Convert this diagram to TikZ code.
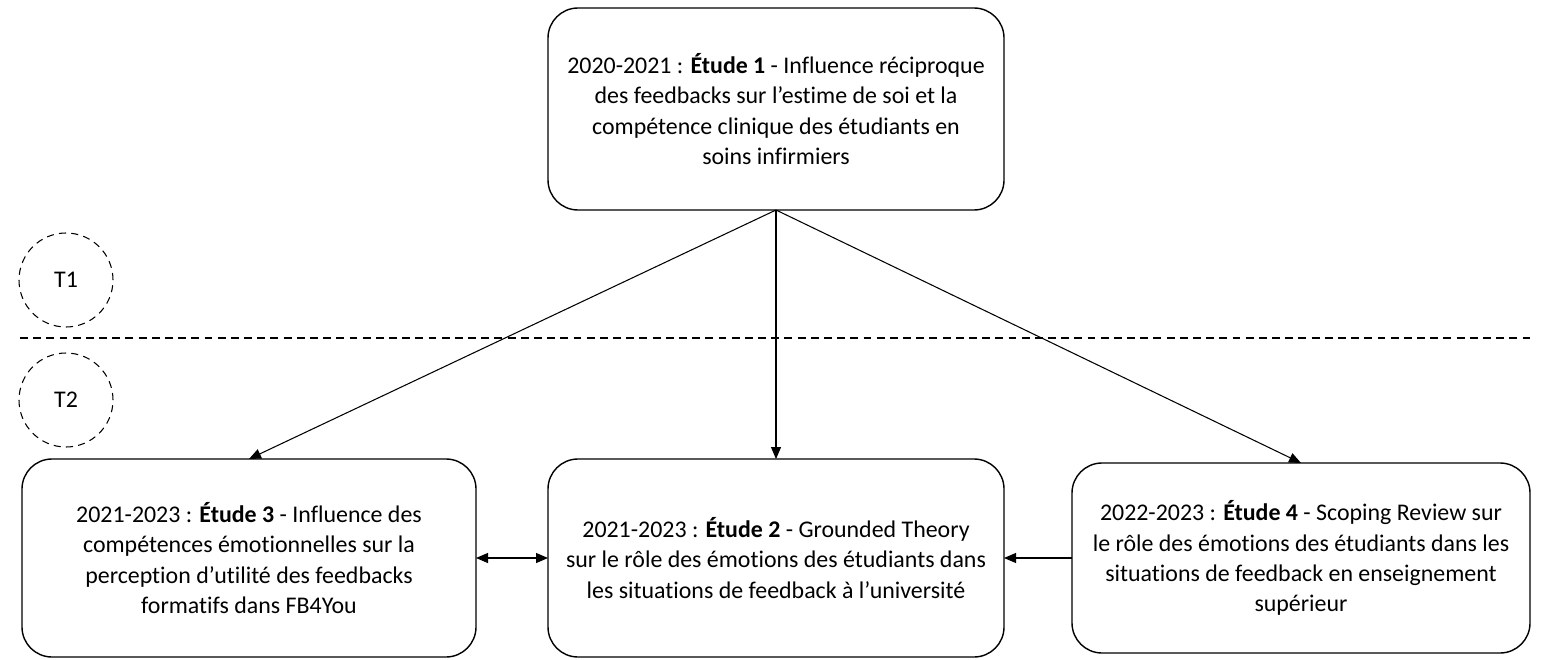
\documentclass[tikz,border=0pt]{standalone}
\usepackage{fontspec}
\setmainfont{Carlito}[Ligatures=NoCommon]
\usetikzlibrary{arrows.meta}

\begin{document}
\begin{tikzpicture}[
    every node/.style={font=\fontsize{13.6}{17.2}\selectfont, outer sep=0pt},
    etude/.style={draw, line width=0.8pt, rounded corners=0.6cm, align=center, inner sep=0pt},
    temps/.style={draw, circle, dashed, dash pattern=on 4pt off 3pt, line width=0.6pt, minimum size=1.88cm},
    fleche/.style={line width=0.6pt, -{Triangle[length=2.4mm,width=2mm]}},
    doublefleche/.style={line width=0.6pt, {Triangle[length=2.4mm,width=2mm]}-{Triangle[length=2.4mm,width=2mm]}}]
    \useasboundingbox (0,0) rectangle (30.9,13.18);

    % les etudes
    \node[etude, minimum width=9.12cm, minimum height=4.04cm] (e1) at (15.52,11.0)
        {2020-2021 : \textbf{Étude 1} - Influence réciproque\\des feedbacks sur l’estime de soi et la\\compétence clinique des étudiants en\\soins infirmiers};
    \node[etude, minimum width=9.08cm, minimum height=3.96cm] (e3) at (4.98,2.02)
        {2021-2023 : \textbf{Étude 3} - Influence des\\compétences émotionnelles sur la\\perception d’utilité des feedbacks\\formatifs dans FB4You};
    \node[etude, minimum width=9.12cm, minimum height=3.96cm] (e2) at (15.52,2.02)
        {2021-2023 : \textbf{Étude 2} - Grounded Theory\\sur le rôle des émotions des étudiants dans\\les situations de feedback à l’université};
    \node[etude, minimum width=9.16cm, minimum height=3.8cm] (e4) at (26.02,2.02)
        {2022-2023 : \textbf{Étude 4} - Scoping Review sur\\le rôle des émotions des étudiants dans les\\situations de feedback en enseignement\\supérieur};

    % les temps
    \node[temps] (t1) at (1.32,7.58) {T1};
    \node[temps] (t2) at (1.32,5.18) {T2};
    \coordinate (sepg) at (0.4,6.42);
    \coordinate (sepd) at (30.6,6.42);
    \draw[dashed, dash pattern=on 4.5pt off 3pt, line width=0.6pt] (sepg) -- (sepd);

    % les liens
    \draw[fleche] (e1.south) -- (e3.north);
    \draw[fleche] (e1.south) -- (e2.north);
    \draw[fleche] (e1.south) -- (e4.north);
    \draw[doublefleche] (e3.east) -- (e2.west);
    \draw[fleche] (e4.west) -- (e2.east);
\end{tikzpicture}
\end{document}
